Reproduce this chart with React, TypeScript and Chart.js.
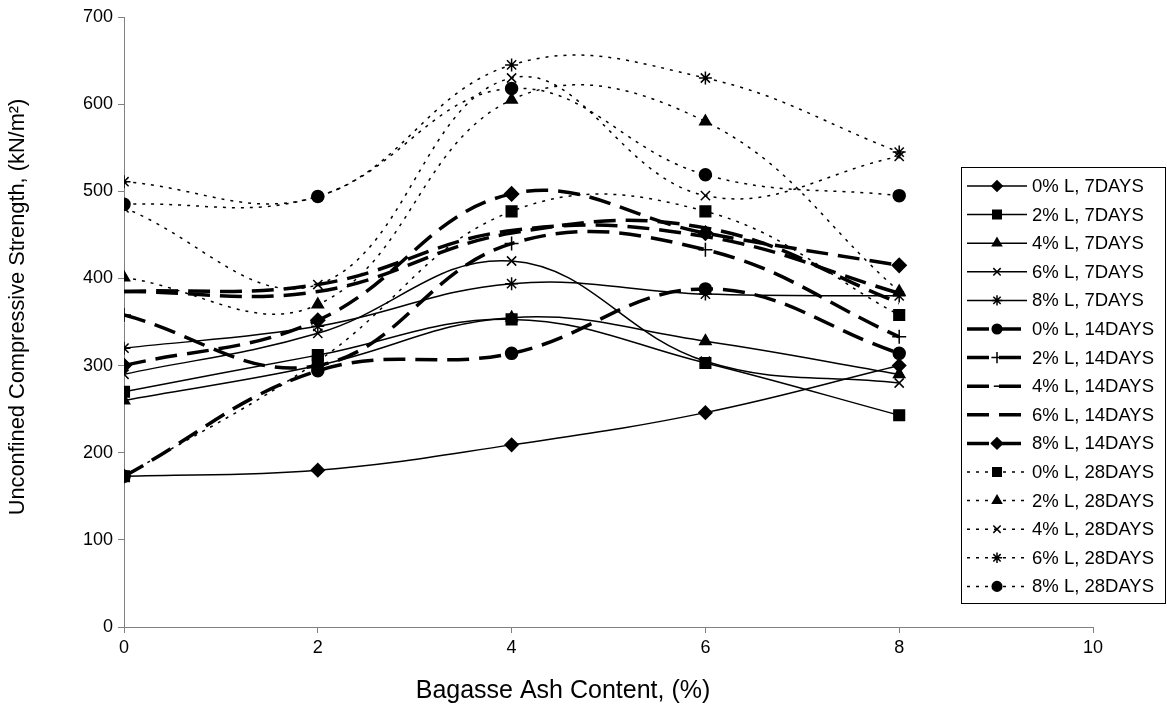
import React, { useEffect, useRef } from "react";
import { Chart, registerables } from "chart.js";
import { drawPoint } from "chart.js/helpers";

Chart.register(...registerables);

const xValues = [0, 2, 4, 6, 8];
const xTicks = [0, 2, 4, 6, 8, 10];
const yTicks = [0, 100, 200, 300, 400, 500, 600, 700];

const xTitle = "Bagasse Ash Content, (%)";
const yTitle = "Unconfined Compressive Strength, (kN/m²)";

const seriesLabels = [
  "0% L, 7DAYS", "2% L, 7DAYS", "4% L, 7DAYS", "6% L, 7DAYS", "8% L, 7DAYS",
  "0% L, 14DAYS", "2% L, 14DAYS", "4% L, 14DAYS", "6% L, 14DAYS", "8% L, 14DAYS",
  "0% L, 28DAYS", "2% L, 28DAYS", "4% L, 28DAYS", "6% L, 28DAYS", "8% L, 28DAYS",
];

const d7_0 = [173, 180, 209, 246, 300];
const d7_2 = [270, 312, 353, 303, 243];
const d7_4 = [260, 300, 355, 328, 290];
const d7_6 = [290, 337, 420, 305, 280];
const d7_8 = [320, 345, 394, 382, 380];
const d14_0 = [173, 294, 314, 388, 314];
const d14_2 = [358, 300, 440, 433, 333];
const d14_4 = [385, 393, 455, 448, 383];
const d14_6 = [385, 385, 452, 458, 372];
const d14_8 = [300, 352, 497, 452, 415];
const d28_0 = [173, 305, 477, 477, 358];
const d28_2 = [401, 370, 605, 580, 385];
const d28_4 = [481, 393, 630, 495, 540];
const d28_6 = [511, 494, 645, 630, 545];
const d28_8 = [485, 494, 618, 519, 495];

const seriesValues = [d7_0, d7_2, d7_4, d7_6, d7_8, d14_0, d14_2, d14_4, d14_6, d14_8, d28_0, d28_2, d28_4, d28_6, d28_8];

const markerStyles = [
  "rectRot", "rect", "triangle", "crossRot", "star",
  "circle", "cross", "line", "line", "rectRot",
  "rect", "triangle", "crossRot", "star", "circle",
];
const markerRadius = [6.5, 7.5, 6.5, 6.5, 6.5, 6, 7, 4, 0, 7, 7.5, 6.5, 6.5, 6.5, 6];

const FONT = "'Liberation Sans', Arial, sans-serif";

function lineStyle(i: number) {
  if (i < 5) return { borderWidth: 1.5, borderDash: [] as number[] };
  if (i < 10) return { borderWidth: 3.5, borderDash: [22, 10] };
  return { borderWidth: 1.5, borderDash: [3, 6] };
}

const overlayPlugin = {
  id: "overlay",
  afterDraw(chart: any) {
    const ctx = chart.ctx as CanvasRenderingContext2D;
    ctx.save();
    // axis titles
    ctx.fillStyle = "#000";
    ctx.textAlign = "center";
    ctx.textBaseline = "middle";
    ctx.font = `25px ${FONT}`;
    ctx.fillText(xTitle, 563, 691);
    ctx.font = `21.8px ${FONT}`;
    ctx.save();
    ctx.translate(18, 307);
    ctx.rotate(-Math.PI / 2);
    ctx.fillText(yTitle, 0, 0);
    ctx.restore();
    // legend
    const bx = 961, by = 167, bw = 204, bh = 436;
    ctx.fillStyle = "#fff";
    ctx.fillRect(bx, by, bw, bh);
    ctx.strokeStyle = "#000";
    ctx.lineWidth = 1;
    ctx.setLineDash([]);
    ctx.strokeRect(bx + 0.5, by + 0.5, bw, bh);
    chart.data.datasets.forEach((ds: any, i: number) => {
      const y = 186 + i * 28.6;
      ctx.strokeStyle = "#000";
      ctx.lineWidth = ds.borderWidth;
      ctx.setLineDash(ds.borderDash || []);
      ctx.beginPath();
      ctx.moveTo(967, y);
      ctx.lineTo(1027, y);
      ctx.stroke();
      ctx.setLineDash([]);
      ctx.fillStyle = "#000";
      ctx.strokeStyle = "#000";
      ctx.lineWidth = 1.5;
      if (ds.pointRadius > 0) {
        drawPoint(ctx, { pointStyle: ds.pointStyle, radius: ds.pointRadius * 0.8, rotation: 0, borderWidth: 1.5 } as any, 997, y);
      }
      ctx.fillStyle = "#000";
      ctx.font = `18.5px ${FONT}`;
      ctx.textBaseline = "middle";
      ctx.textAlign = "left";
      ctx.fillText(ds.label, 1032, y + 1);
    });
    ctx.restore();
  },
};

export default function App() {
  const ref = useRef<HTMLCanvasElement | null>(null);
  useEffect(() => {
    document.body.style.margin = "0";
    if (!ref.current) return;
    const datasets = seriesValues.map((vals, i) => ({
      label: seriesLabels[i],
      data: vals.map((v, j) => ({ x: xValues[j], y: v })),
      borderColor: "#000",
      backgroundColor: "#000",
      pointBackgroundColor: "#000",
      pointBorderColor: "#000",
      pointBorderWidth: 1.5,
      pointStyle: markerStyles[i],
      pointRadius: markerRadius[i],
      tension: 0.4,
      fill: false,
      ...lineStyle(i),
    }));
    const chart = new Chart(ref.current, {
      type: "line",
      data: { datasets },
      options: {
        animation: false,
        responsive: false,
        events: [],
        layout: { padding: { top: 17, right: 74, left: 0, bottom: 0 } },
        plugins: { legend: { display: false }, tooltip: { enabled: false } },
        scales: {
          x: {
            type: "linear",
            min: 0,
            max: 10,
            afterBuildTicks: (s: any) => { s.ticks = xTicks.map((v) => ({ value: v })); },
            afterFit: (s: any) => { s.height = 82; },
            ticks: { color: "#000", font: { family: FONT, size: 18 }, padding: 4 },
            grid: { display: true, drawOnChartArea: false, drawTicks: true, tickLength: 6, color: "#808080" },
            border: { display: true, color: "#808080", width: 1 },
          },
          y: {
            type: "linear",
            min: 0,
            max: 700,
            afterBuildTicks: (s: any) => { s.ticks = yTicks.map((v) => ({ value: v })); },
            afterFit: (s: any) => { s.width = 124; },
            ticks: { color: "#000", font: { family: FONT, size: 18 }, padding: 5 },
            grid: { display: true, drawOnChartArea: false, drawTicks: true, tickLength: 6, color: "#808080" },
            border: { display: true, color: "#808080", width: 1 },
          },
        },
      },
      plugins: [overlayPlugin],
    });
    return () => chart.destroy();
  }, []);
  return (
    <div style={{ width: 1167, height: 709, background: "#fff" }}>
      <canvas ref={ref} width={1167} height={709} style={{ display: "block" }} />
    </div>
  );
}
